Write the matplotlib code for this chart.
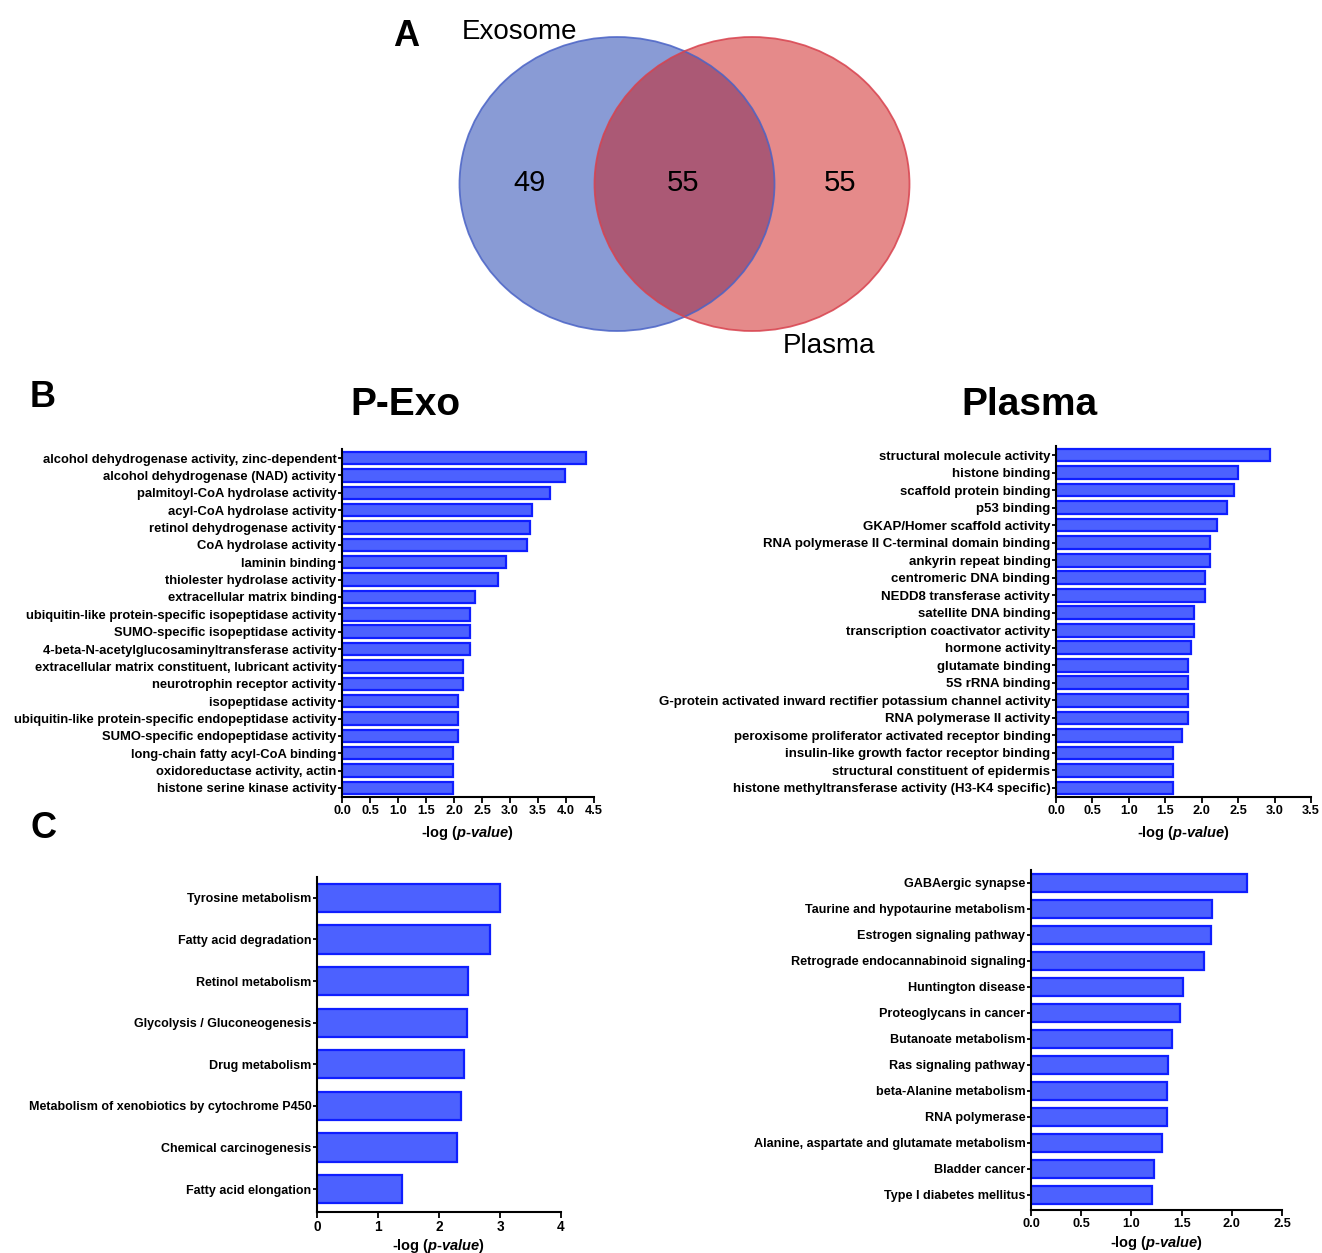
import numpy as np
import matplotlib
matplotlib.use("Agg")
import matplotlib.pyplot as plt
from matplotlib.patches import Ellipse

plt.rcParams['font.family'] = ['Liberation Sans', 'DejaVu Sans']
plt.rcParams['mathtext.fontset'] = 'custom'
plt.rcParams['mathtext.it'] = 'Liberation Sans:italic:bold'
plt.rcParams['mathtext.rm'] = 'Liberation Sans:bold'

# Venn counts
venn_names = ['Exosome', 'Plasma']
venn_counts = [49, 55, 55]  # exosome only, shared, plasma only

# GO terms, P-Exo
go_exo_terms = [
    'alcohol dehydrogenase activity, zinc-dependent',
    'alcohol dehydrogenase (NAD) activity',
    'palmitoyl-CoA hydrolase activity',
    'acyl-CoA hydrolase activity',
    'retinol dehydrogenase activity',
    'CoA hydrolase activity',
    'laminin binding',
    'thiolester hydrolase activity',
    'extracellular matrix binding',
    'ubiquitin-like protein-specific isopeptidase activity',
    'SUMO-specific isopeptidase activity',
    '4-beta-N-acetylglucosaminyltransferase activity',
    'extracellular matrix constituent, lubricant activity',
    'neurotrophin receptor activity',
    'isopeptidase activity',
    'ubiquitin-like protein-specific endopeptidase activity',
    'SUMO-specific endopeptidase activity',
    'long-chain fatty acyl-CoA binding',
    'oxidoreductase activity, actin',
    'histone serine kinase activity',
]
go_exo_vals = [4.36, 3.99, 3.72, 3.40, 3.36, 3.31, 2.93, 2.79, 2.38, 2.29,
               2.29, 2.29, 2.16, 2.16, 2.07, 2.07, 2.07, 1.99, 1.99, 1.99]

# GO terms, Plasma
go_pla_terms = [
    'structural molecule activity',
    'histone binding',
    'scaffold protein binding',
    'p53 binding',
    'GKAP/Homer scaffold activity',
    'RNA polymerase II C-terminal domain binding',
    'ankyrin repeat binding',
    'centromeric DNA binding',
    'NEDD8 transferase activity',
    'satellite DNA binding',
    'transcription coactivator activity',
    'hormone activity',
    'glutamate binding',
    '5S rRNA binding',
    'G-protein activated inward rectifier potassium channel activity',
    'RNA polymerase II activity',
    'peroxisome proliferator activated receptor binding',
    'insulin-like growth factor receptor binding',
    'structural constituent of epidermis',
    'histone methyltransferase activity (H3-K4 specific)',
]
go_pla_vals = [2.94, 2.50, 2.44, 2.35, 2.21, 2.11, 2.11, 2.04, 2.04, 1.90,
               1.90, 1.85, 1.81, 1.81, 1.81, 1.81, 1.73, 1.61, 1.61, 1.61]

# KEGG pathways, P-Exo
kegg_exo_terms = [
    'Tyrosine metabolism',
    'Fatty acid degradation',
    'Retinol metabolism',
    'Glycolysis / Gluconeogenesis',
    'Drug metabolism',
    'Metabolism of xenobiotics by cytochrome P450',
    'Chemical carcinogenesis',
    'Fatty acid elongation',
]
kegg_exo_vals = [3.00, 2.83, 2.48, 2.46, 2.41, 2.36, 2.30, 1.40]

# KEGG pathways, Plasma
kegg_pla_terms = [
    'GABAergic synapse',
    'Taurine and hypotaurine metabolism',
    'Estrogen signaling pathway',
    'Retrograde endocannabinoid signaling',
    'Huntington disease',
    'Proteoglycans in cancer',
    'Butanoate metabolism',
    'Ras signaling pathway',
    'beta-Alanine metabolism',
    'RNA polymerase',
    'Alanine, aspartate and glutamate metabolism',
    'Bladder cancer',
    'Type I diabetes mellitus',
]
kegg_pla_vals = [2.15, 1.80, 1.79, 1.72, 1.51, 1.48, 1.40, 1.36, 1.35, 1.35,
                 1.30, 1.23, 1.21]

W, H = 1322, 1253
fig = plt.figure(figsize=(W / 100, H / 100), dpi=100)


def px_axes(left, top, right, bottom):
    return fig.add_axes([left / W, 1 - bottom / H, (right - left) / W, (bottom - top) / H])


def bar_panel(ax, terms, vals, xmax, step, fmt, bar_h, pad_top, pad_bot,
              label_size=9.4, tick_size=9.2, labelpad=5):
    y = np.arange(len(terms))
    ax.barh(y, vals, height=bar_h, color='#4c61ff', edgecolor='#0f1eff', linewidth=1.6)
    ax.set_yticks(y)
    ax.set_yticklabels(terms, fontsize=label_size, fontweight='bold')
    ax.set_ylim(len(terms) - 1 + pad_bot, -pad_top)
    ax.set_xlim(0, xmax)
    ticks = np.arange(0, xmax + step / 2, step)
    ax.set_xticks(ticks)
    ax.set_xticklabels([fmt.format(t) for t in ticks], fontsize=tick_size, fontweight='bold')
    ax.spines['top'].set_visible(False)
    ax.spines['right'].set_visible(False)
    ax.spines['left'].set_linewidth(1.5)
    ax.spines['bottom'].set_linewidth(1.5)
    ax.tick_params(axis='y', length=3, width=1.3, pad=1)
    ax.tick_params(axis='x', length=4, width=1.3, pad=2)
    ax.set_xlabel(r'-log ($\mathit{p}$-$\mathit{value}$)', fontsize=10.5,
                  fontweight='bold', labelpad=labelpad)


# Panel A: Venn diagram
vax = fig.add_axes([0, 1 - 370 / H, 1, 370 / H])
vax.set_xlim(0, W)
vax.set_ylim(370, 0)
vax.axis('off')
vax.add_patch(Ellipse((617, 184), 315, 294, facecolor=(21 / 255, 57 / 255, 173 / 255),
                      alpha=0.5, edgecolor='none'))
vax.add_patch(Ellipse((752, 184), 315, 294, facecolor=(204 / 255, 26 / 255, 26 / 255),
                      alpha=0.51, edgecolor='none'))
vax.add_patch(Ellipse((617, 184), 315, 294, facecolor='none', edgecolor='#4a63c6',
                      linewidth=1.3, alpha=0.85))
vax.add_patch(Ellipse((752, 184), 315, 294, facecolor='none', edgecolor='#d8424e',
                      linewidth=1.3, alpha=0.85))
for xpos, n in zip([530, 683, 840], venn_counts):
    vax.text(xpos, 183, str(n), fontsize=21, ha='center', va='center')
vax.text(519, 32, venn_names[0], fontsize=20, ha='center', va='center')
vax.text(829, 346, venn_names[1], fontsize=20, ha='center', va='center')

fig.text(406 / W, 1 - 37 / H, 'A', fontsize=26, fontweight='bold', ha='center', va='center')
fig.text(43 / W, 1 - 398 / H, 'B', fontsize=26, fontweight='bold', ha='center', va='center')
fig.text(43 / W, 1 - 828 / H, 'C', fontsize=26, fontweight='bold', ha='center', va='center')
fig.text(405 / W, 1 - 405 / H, 'P-Exo', fontsize=28, fontweight='bold', ha='center', va='center')
fig.text(1029 / W, 1 - 405 / H, 'Plasma', fontsize=28, fontweight='bold', ha='center', va='center')

# Panel B: GO terms
ax1 = px_axes(342, 449, 594, 797)
bar_panel(ax1, go_exo_terms, go_exo_vals, 4.5, 0.5, '{:.1f}', 0.72, 0.52, 0.52)
ax2 = px_axes(1056, 446, 1311, 797)
bar_panel(ax2, go_pla_terms, go_pla_vals, 3.5, 0.5, '{:.1f}', 0.72, 0.52, 0.52,
          label_size=9.5)

# Panel C: KEGG pathways
ax3 = px_axes(317, 877, 561, 1212)
bar_panel(ax3, kegg_exo_terms, kegg_exo_vals, 4, 1, '{:.0f}', 0.68, 0.5, 0.55,
          label_size=9.0, tick_size=9.8, labelpad=2)
ax4 = px_axes(1031, 870, 1282, 1210)
bar_panel(ax4, kegg_pla_terms, kegg_pla_vals, 2.5, 0.5, '{:.1f}', 0.7, 0.5, 0.58,
          label_size=9.1, labelpad=3)

fig.savefig('out.png', dpi=100, facecolor='white')
